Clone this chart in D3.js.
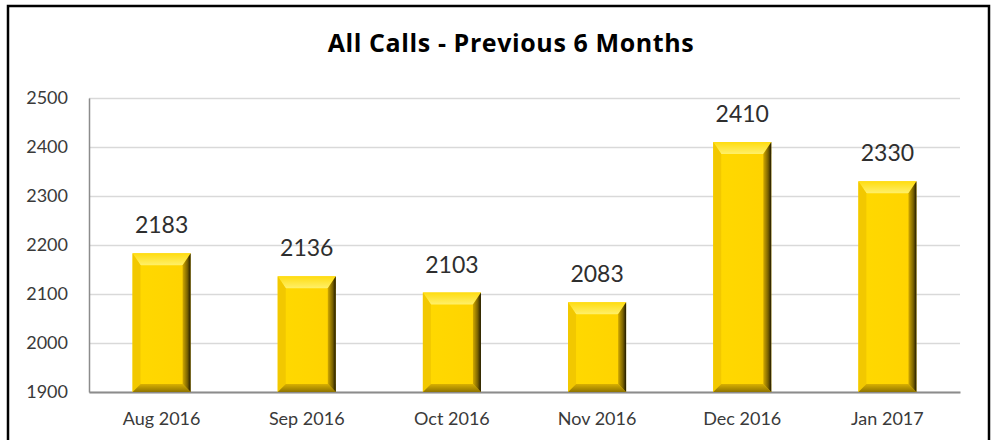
<!DOCTYPE html>
<html>
<head>
<meta charset="utf-8">
<script src="https://cdn.jsdelivr.net/npm/d3@7"></script>
<style>
  body { margin: 0; background: #fff; }
  svg { display: block; font-family: Lato, "Open Sans", sans-serif; }
</style>
</head>
<body>
<svg id="chart"></svg>
<script>
// data
var months = ["Aug 2016", "Sep 2016", "Oct 2016", "Nov 2016", "Dec 2016", "Jan 2017"];
var calls = [2183, 2136, 2103, 2083, 2410, 2330];
var yTicks = [1900, 2000, 2100, 2200, 2300, 2400, 2500];
var title = "All Calls - Previous 6 Months";

var W = 999, H = 440;
var svg = d3.select("#chart").attr("width", W).attr("height", H);

var margin = {left: 89, right: 39, top: 98, bottom: 48};
var plotW = W - margin.left - margin.right,
    plotH = H - margin.top - margin.bottom;

var x = d3.scaleBand().domain(months).range([margin.left, margin.left + plotW]).paddingInner(0.6).paddingOuter(0.3);
var y = d3.scaleLinear().domain([1900, 2500]).range([margin.top + plotH, margin.top]);

// frame
svg.append("rect")
    .attr("x", 8).attr("y", 6).attr("width", 981).attr("height", 450)
    .attr("fill", "#fff").attr("stroke", "#000").attr("stroke-width", 2.5);

// gradients for the bevelled bars
var defs = svg.append("defs");
var gRight = defs.append("linearGradient").attr("id", "gRight").attr("x1", 0).attr("x2", 1).attr("y1", 0).attr("y2", 0);
gRight.append("stop").attr("offset", "0%").attr("stop-color", "#d0a800");
gRight.append("stop").attr("offset", "60%").attr("stop-color", "#7a6200");
gRight.append("stop").attr("offset", "100%").attr("stop-color", "#1e1800");
var gTop = defs.append("linearGradient").attr("id", "gTop").attr("x1", 0).attr("x2", 0).attr("y1", 0).attr("y2", 1);
gTop.append("stop").attr("offset", "0%").attr("stop-color", "#ffdc10");
gTop.append("stop").attr("offset", "100%").attr("stop-color", "#fff06a");
var gBottom = defs.append("linearGradient").attr("id", "gBottom").attr("x1", 0).attr("x2", 0).attr("y1", 0).attr("y2", 1);
gBottom.append("stop").attr("offset", "0%").attr("stop-color", "#d9b000");
gBottom.append("stop").attr("offset", "100%").attr("stop-color", "#8f7400");
var gFace = defs.append("linearGradient").attr("id", "gFace").attr("x1", 0).attr("x2", 1).attr("y1", 0).attr("y2", 0);
gFace.append("stop").attr("offset", "0%").attr("stop-color", "#ffd900");
gFace.append("stop").attr("offset", "100%").attr("stop-color", "#ffd300");

// gridlines
svg.append("g")
    .attr("transform", "translate(" + margin.left + ",0)")
    .call(d3.axisLeft(y).tickValues(yTicks).tickSize(-plotW).tickFormat(""))
    .call(function(g){
        g.select(".domain").remove();
        g.selectAll("line").attr("stroke", "#d9d9d9").attr("stroke-width", 1.5);
    });

// y axis
svg.append("g")
    .attr("transform", "translate(" + margin.left + ",0)")
    .call(d3.axisLeft(y).tickValues(yTicks).tickSize(0).tickPadding(21).tickFormat(d3.format("d")))
    .call(function(g){
        g.select(".domain").attr("stroke", "#8c8c8c").attr("stroke-width", 1.5);
        g.selectAll("text").attr("font-size", 18).attr("fill", "#3a3a3a").attr("font-family", "Lato");
    });

// x axis
svg.append("g")
    .attr("transform", "translate(0," + (margin.top + plotH) + ")")
    .call(d3.axisBottom(x).tickSize(0).tickPadding(20))
    .call(function(g){
        g.select(".domain").attr("stroke", "#8c8c8c").attr("stroke-width", 2);
        g.selectAll("text").attr("font-size", 18).attr("fill", "#3a3a3a").attr("font-family", "Lato");
    });

// bars
var bars = svg.append("g").selectAll("g")
    .data(months.map(function(m, i){ return {month: m, value: calls[i]}; }))
    .enter().append("g");

function bevel(d){
    var x0 = x(d.month), x1 = x0 + x.bandwidth(), y0 = y(d.value), y1 = y(1900);
    return {x0: x0, x1: x1, y0: y0, y1: y1, b: 8, t: 12};
}
function pts(a){ return a.map(function(p){ return p.join(","); }).join(" "); }

bars.append("rect")
    .attr("x", function(d){ return x(d.month); })
    .attr("y", function(d){ return y(d.value); })
    .attr("width", x.bandwidth())
    .attr("height", function(d){ return y(1900) - y(d.value); })
    .attr("fill", "url(#gFace)");
bars.append("polygon").attr("fill", "url(#gTop)")
    .attr("points", function(d){ var r = bevel(d);
        return pts([[r.x0, r.y0], [r.x1, r.y0], [r.x1 - r.b, r.y0 + r.t], [r.x0 + r.b, r.y0 + r.t]]); });
bars.append("polygon").attr("fill", "#f2c800")
    .attr("points", function(d){ var r = bevel(d);
        return pts([[r.x0, r.y0], [r.x0 + r.b, r.y0 + r.t], [r.x0 + r.b, r.y1 - r.b], [r.x0, r.y1]]); });
bars.append("polygon").attr("fill", "url(#gBottom)")
    .attr("points", function(d){ var r = bevel(d);
        return pts([[r.x0, r.y1], [r.x0 + r.b, r.y1 - r.b], [r.x1 - r.b, r.y1 - r.b], [r.x1, r.y1]]); });
bars.append("polygon").attr("fill", "url(#gRight)")
    .attr("points", function(d){ var r = bevel(d);
        return pts([[r.x1, r.y0], [r.x1, r.y1], [r.x1 - r.b, r.y1 - r.b], [r.x1 - r.b, r.y0 + r.t]]); });

// value labels
bars.append("text")
    .attr("x", function(d){ return x(d.month) + x.bandwidth() / 2; })
    .attr("y", function(d){ return y(d.value) - 20; })
    .attr("text-anchor", "middle")
    .attr("font-size", 23)
    .attr("fill", "#2e2e2e")
    .text(function(d){ return d.value; });

// title
svg.append("text")
    .attr("x", 511).attr("y", 52)
    .attr("text-anchor", "middle")
    .attr("font-family", "'Open Sans', sans-serif")
    .attr("font-size", 25).attr("font-weight", "bold").attr("fill", "#000")
    .attr("letter-spacing", 0.6)
    .text(title);
</script>
</body>
</html>
